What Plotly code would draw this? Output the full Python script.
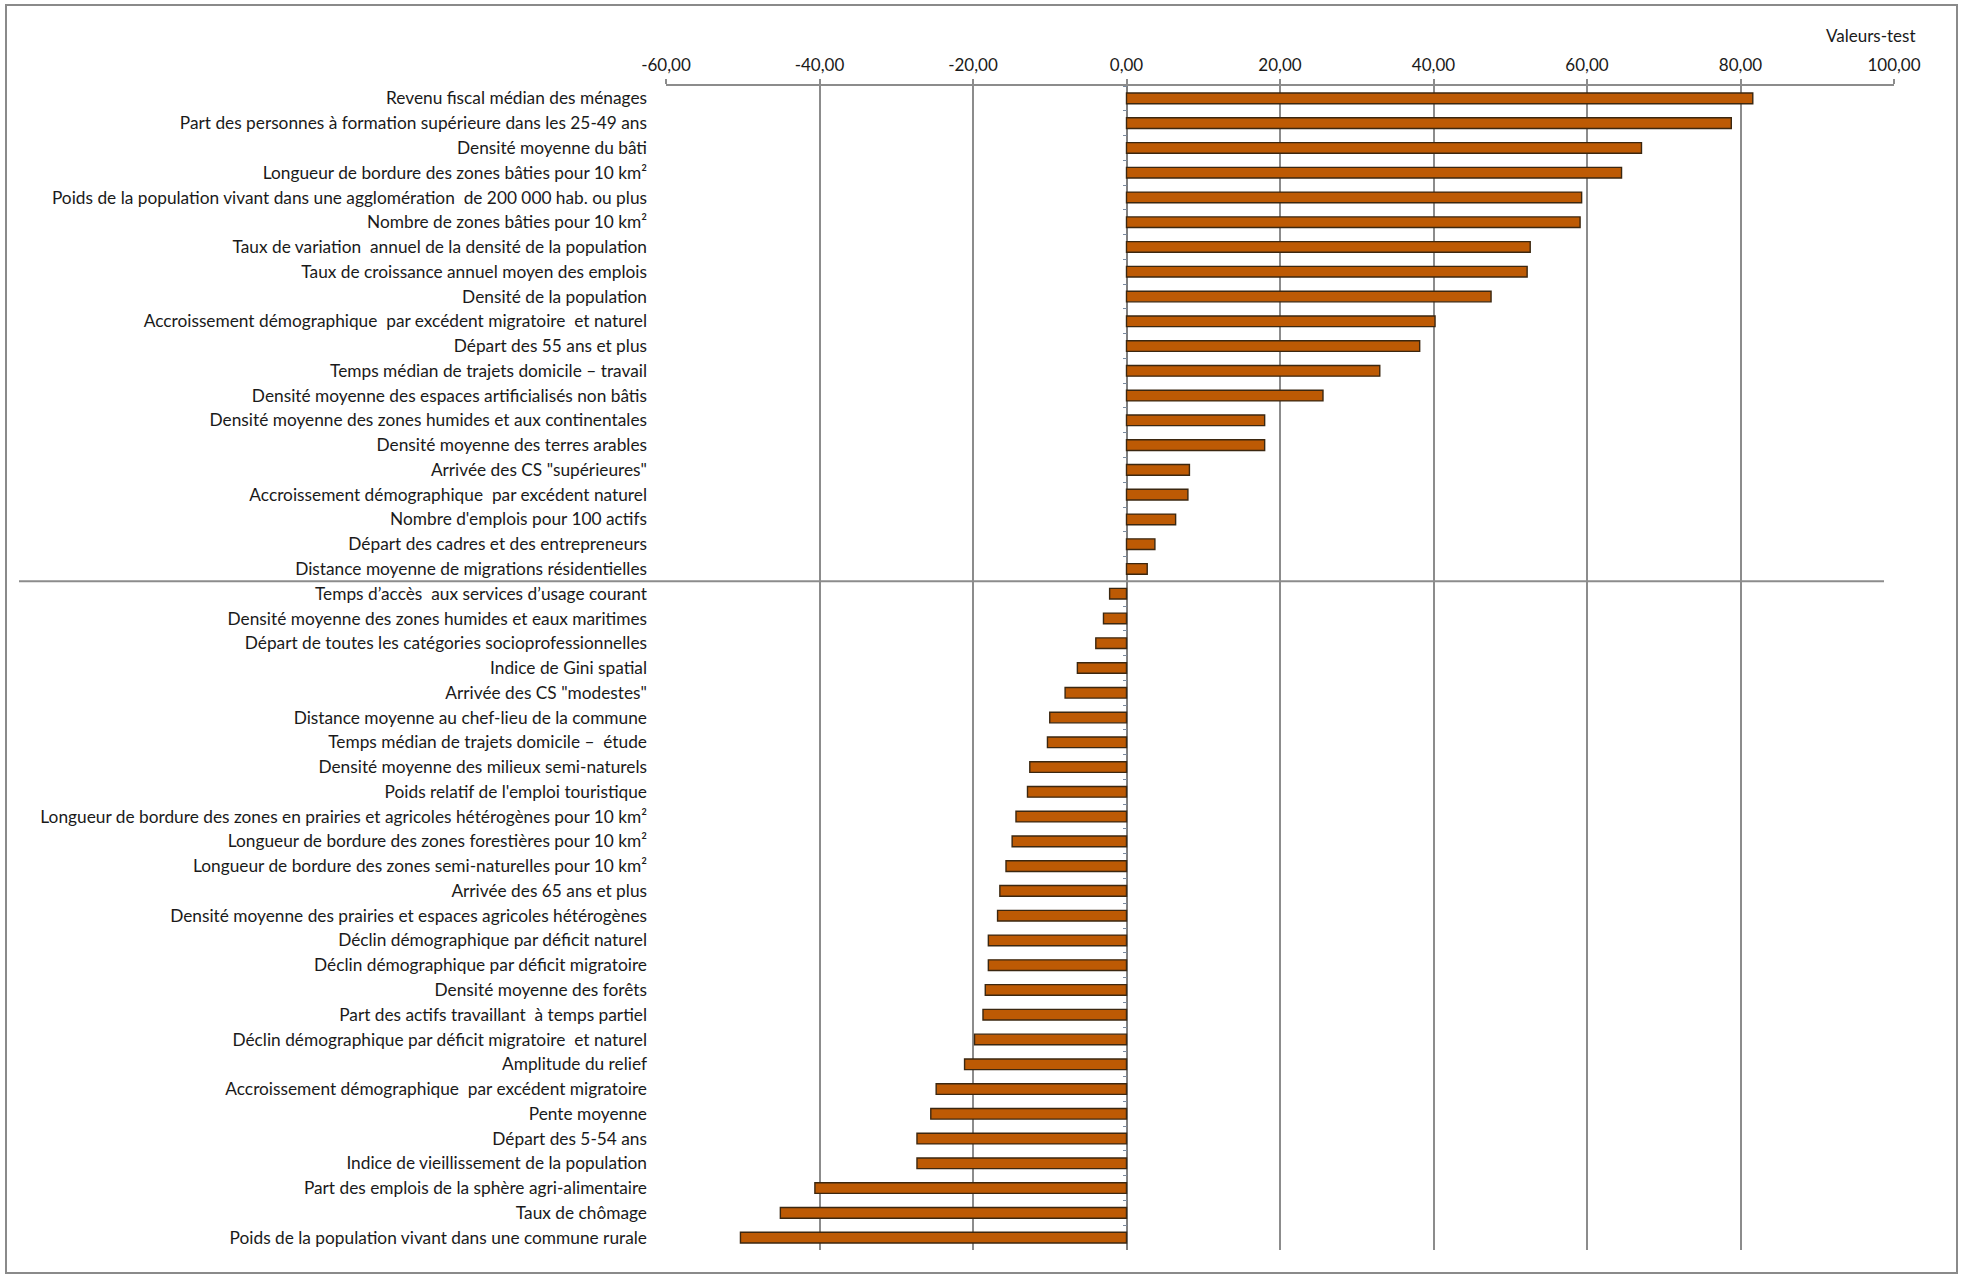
import plotly.graph_objects as go

# Variables and their test values ("valeurs-test"), top to bottom
variables = [
    "Revenu fiscal médian des ménages",
    "Part des personnes à formation supérieure dans les 25-49 ans",
    "Densité moyenne du bâti",
    "Longueur de bordure des zones bâties pour 10 km²",
    "Poids de la population vivant dans une agglomération  de 200 000 hab. ou plus",
    "Nombre de zones bâties pour 10 km²",
    "Taux de variation  annuel de la densité de la population",
    "Taux de croissance annuel moyen des emplois",
    "Densité de la population",
    "Accroissement démographique  par excédent migratoire  et naturel",
    "Départ des 55 ans et plus",
    "Temps médian de trajets domicile – travail",
    "Densité moyenne des espaces artificialisés non bâtis",
    "Densité moyenne des zones humides et aux continentales",
    "Densité moyenne des terres arables",
    "Arrivée des CS \"supérieures\"",
    "Accroissement démographique  par excédent naturel",
    "Nombre d'emplois pour 100 actifs",
    "Départ des cadres et des entrepreneurs",
    "Distance moyenne de migrations résidentielles",
    "Temps d’accès  aux services d’usage courant",
    "Densité moyenne des zones humides et eaux maritimes",
    "Départ de toutes les catégories socioprofessionnelles",
    "Indice de Gini spatial",
    "Arrivée des CS \"modestes\"",
    "Distance moyenne au chef-lieu de la commune",
    "Temps médian de trajets domicile –  étude",
    "Densité moyenne des milieux semi-naturels",
    "Poids relatif de l'emploi touristique",
    "Longueur de bordure des zones en prairies et agricoles hétérogènes pour 10 km²",
    "Longueur de bordure des zones forestières pour 10 km²",
    "Longueur de bordure des zones semi-naturelles pour 10 km²",
    "Arrivée des 65 ans et plus",
    "Densité moyenne des prairies et espaces agricoles hétérogènes",
    "Déclin démographique par déficit naturel",
    "Déclin démographique par déficit migratoire",
    "Densité moyenne des forêts",
    "Part des actifs travaillant  à temps partiel",
    "Déclin démographique par déficit migratoire  et naturel",
    "Amplitude du relief",
    "Accroissement démographique  par excédent migratoire",
    "Pente moyenne",
    "Départ des 5-54 ans",
    "Indice de vieillissement de la population",
    "Part des emplois de la sphère agri-alimentaire",
    "Taux de chômage",
    "Poids de la population vivant dans une commune rurale",
]

valeurs_test = [
    81.6, 78.8, 67.1, 64.5, 59.3, 59.1, 52.6, 52.2, 47.5, 40.2,
    38.2, 33.0, 25.6, 18.0, 18.0, 8.2, 8.0, 6.4, 3.7, 2.7,
    -2.2, -3.0, -4.0, -6.4, -8.0, -10.0, -10.3, -12.6, -12.9, -14.4,
    -14.9, -15.7, -16.5, -16.8, -18.0, -18.0, -18.4, -18.7, -19.8, -21.1,
    -24.8, -25.5, -27.3, -27.3, -40.6, -45.1, -50.3,
]

axis_ticks = [-60, -40, -20, 0, 20, 40, 60, 80, 100]
axis_tick_labels = ["-60,00", "-40,00", "-20,00", "0,00", "20,00",
                    "40,00", "60,00", "80,00", "100,00"]
n_positive = sum(1 for v in valeurs_test if v > 0)

W, H = 1963, 1276
M_L, M_R, M_T, M_B = 666, 69, 86, 26
PLOT_W = W - M_L - M_R
PLOT_H = H - M_T - M_B


def px_x(px):
    """Horizontal pixel position -> paper fraction."""
    return (px - M_L) / PLOT_W


def px_y(py):
    """Vertical pixel position (from top) -> paper fraction."""
    return (H - M_B - py) / PLOT_H


GRID = "#8c8c8c"
FONT = "Lato, 'Open Sans', sans-serif"
LABEL_SIZE = 17.3

fig = go.Figure()
fig.add_trace(go.Bar(
    x=valeurs_test,
    y=variables,
    orientation="h",
    marker=dict(color="#bd5a04", line=dict(color="#3b2710", width=1.4)),
    hoverinfo="x+y",
))
# Same bars on a second category axis, drawn invisibly, so that axis can carry
# the boundary ticks along the zero line.
fig.add_trace(go.Bar(
    x=valeurs_test,
    y=variables,
    orientation="h",
    yaxis="y2",
    marker=dict(color="rgba(0,0,0,0)", line=dict(width=0)),
    hoverinfo="skip",
    showlegend=False,
))

fig.update_layout(
    width=W,
    height=H,
    margin=dict(l=M_L, r=M_R, t=M_T, b=M_B, pad=0),
    paper_bgcolor="white",
    plot_bgcolor="white",
    showlegend=False,
    bargap=0.57,
    barmode="overlay",
    font=dict(family=FONT, size=LABEL_SIZE, color="#1a1a1a"),
    xaxis=dict(
        side="top",
        range=[-60, 100],
        tickmode="array",
        tickvals=axis_ticks,
        ticktext=axis_tick_labels,
        showgrid=True,
        gridcolor=GRID,
        gridwidth=2,
        zeroline=True,
        zerolinecolor="#7f7f7f",
        zerolinewidth=2,
        showline=True,
        linecolor=GRID,
        linewidth=2,
        ticks="outside",
        ticklen=5,
        tickcolor=GRID,
        tickwidth=2,
        tickfont=dict(family=FONT, size=17, color="#1a1a1a"),
        ticklabelstandoff=1,
        fixedrange=True,
    ),
    yaxis=dict(
        type="category",
        categoryorder="array",
        categoryarray=variables,
        autorange="reversed",
        showgrid=False,
        showline=False,
        ticks="",
        tickfont=dict(family=FONT, size=LABEL_SIZE, color="#1a1a1a"),
        ticklabelstandoff=18,
        fixedrange=True,
    ),
    yaxis2=dict(
        type="category",
        categoryorder="array",
        categoryarray=variables,
        autorange="reversed",
        overlaying="y",
        anchor="free",
        position=px_x(1127),
        side="left",
        showgrid=False,
        showline=False,
        showticklabels=False,
        ticks="outside",
        tickson="boundaries",
        ticklen=4,
        tickwidth=1,
        tickcolor="#7a8a9e",
        fixedrange=True,
    ),
)

shapes = [
    # separator between positive and negative values
    dict(type="line", xref="paper", yref="y",
         x0=px_x(19), x1=px_x(1884),
         y0=n_positive - 0.5, y1=n_positive - 0.5,
         line=dict(color="#8c8c8c", width=2)),
    # outer frame
    dict(type="rect", xref="paper", yref="paper",
         x0=px_x(6), x1=px_x(1957), y0=px_y(1273), y1=px_y(5),
         line=dict(color="#8a8a8a", width=2), fillcolor="rgba(0,0,0,0)",
         layer="above"),
]
fig.update_layout(shapes=shapes)

fig.add_annotation(
    text="Valeurs-test",
    xref="paper", yref="paper",
    x=px_x(1917), y=px_y(36),
    xanchor="right", yanchor="middle",
    showarrow=False,
    font=dict(family=FONT, size=17, color="#1a1a1a"),
)

fig.write_html("out.html")
